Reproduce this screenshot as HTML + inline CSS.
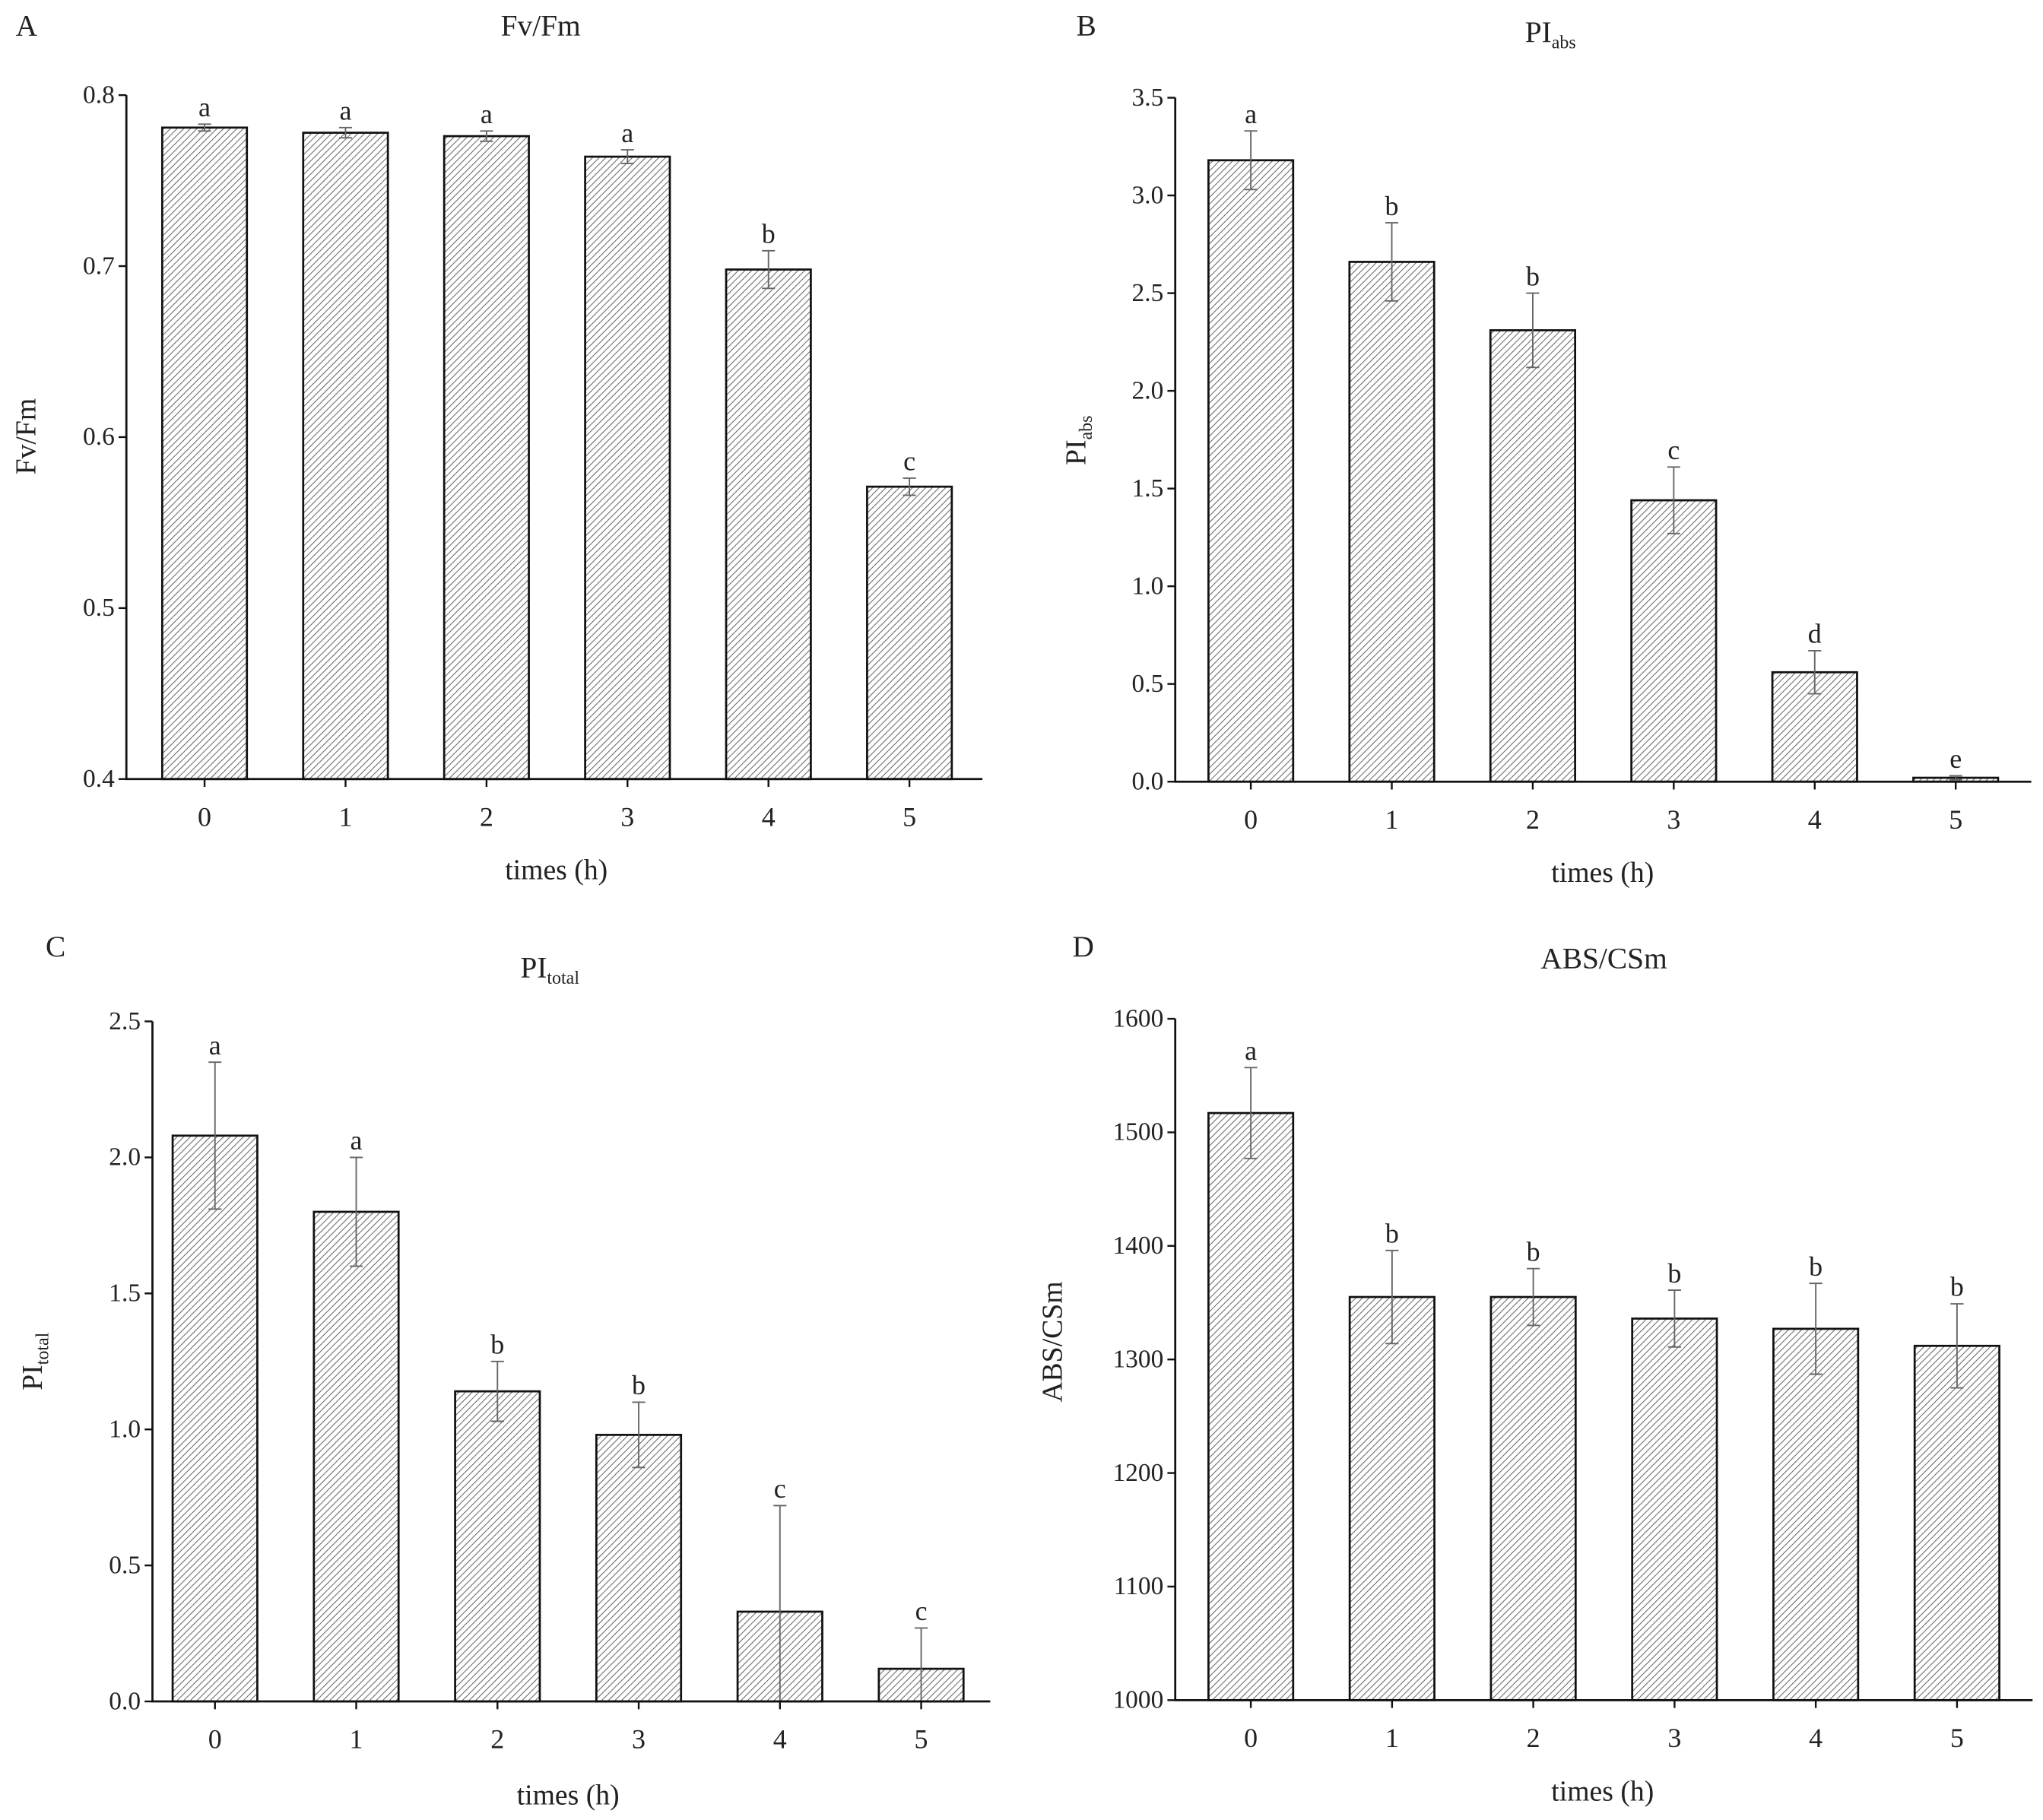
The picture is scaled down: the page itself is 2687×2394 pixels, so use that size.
<!DOCTYPE html>
<html><head><meta charset="utf-8"><style>
html,body{margin:0;padding:0;background:#fff}
svg{display:block}
text{font-family:"Liberation Serif",serif;fill:#222}
</style></head><body>
<svg id="fig" width="2687" height="2394" viewBox="0 0 1568 1397" xmlns="http://www.w3.org/2000/svg">
<defs>
<pattern id="hatch" patternUnits="userSpaceOnUse" width="3.6" height="3.6" patternTransform="rotate(45)">
<rect width="3.6" height="3.6" fill="#fff"/>
<line x1="0" y1="0" x2="0" y2="3.6" stroke="#666" stroke-width="1.2"/>
</pattern>
</defs>
</svg>
<script>
const categories = ["0","1","2","3","4","5"];
const fvfmValues = [0.781,0.778,0.776,0.764,0.698,0.571];
const fvfmErrors = [0.002,0.003,0.003,0.004,0.011,0.005];
const fvfmLetters = ["a","a","a","a","b","c"];
const fvfmTicks = [0.4,0.5,0.6,0.7,0.8];
const piabsValues = [3.18,2.66,2.31,1.44,0.56,0.02];
const piabsErrors = [0.15,0.20,0.19,0.17,0.11,0.01];
const piabsLetters = ["a","b","b","c","d","e"];
const piabsTicks = [0,0.5,1,1.5,2,2.5,3,3.5];
const pitotValues = [2.08,1.80,1.14,0.98,0.33,0.12];
const pitotErrors = [0.27,0.20,0.11,0.12,0.39,0.15];
const pitotLetters = ["a","a","b","b","c","c"];
const pitotTicks = [0,0.5,1,1.5,2,2.5];
const abscsValues = [1517,1355,1355,1336,1327,1312];
const abscsErrors = [40,41,25,25,40,37];
const abscsLetters = ["a","b","b","b","b","b"];
const abscsTicks = [1000,1100,1200,1300,1400,1500,1600];

const NS="http://www.w3.org/2000/svg";
const svg=document.getElementById('fig');
function mk(tag,attrs,parent){const e=document.createElementNS(NS,tag);for(const k in attrs)e.setAttribute(k,attrs[k]);(parent||svg).appendChild(e);return e;}

function panel(cfg){
  const g=mk('g',{});
  
  
  const y=v=>cfg.y0+(v-cfg.min)/(cfg.max-cfg.min)*(cfg.y1-cfg.y0);
  const x=i=>cfg.c0+i*cfg.step;
  cfg.values.forEach((v,i)=>{
    const top=y(v);
    const r=mk('rect',{x:x(i)-32.5,y:top,width:65,height:y(cfg.min)-top,fill:'url(#hatch)',stroke:'#111','stroke-width':1.6},g);
    
    
    const e=cfg.errors[i];
    const hi=y(v+e), lo=y(Math.max(cfg.min,v-e));
    const eb=mk('path',{d:`M${x(i)} ${hi}V${lo}M${x(i)-5} ${hi}H${x(i)+5}M${x(i)-5} ${lo}H${x(i)+5}`,stroke:'#666','stroke-width':1.1,fill:'none'},g);
    
    
    const t=mk('text',{x:x(i),y:hi-6,'text-anchor':'middle','font-size':21},g);
    t.textContent=cfg.letters[i];
    
    
  });
  const ax=mk('path',{d:`M${cfg.ax} ${y(cfg.max)}V${y(cfg.min)}H${cfg.xend}`,stroke:'#111','stroke-width':1.6,fill:'none'},g);
  
  
  cfg.ticks.forEach(tv=>{
    mk('line',{x1:cfg.ax-6,x2:cfg.ax,y1:y(tv),y2:y(tv),stroke:'#111','stroke-width':1.4},g);
    const t=mk('text',{x:cfg.ax-9,y:y(tv)+6,'text-anchor':'end','font-size':19.5},g);
    t.textContent=cfg.fmt(tv);
    
    
  });
  categories.forEach((c,i)=>{
    mk('line',{x1:x(i),x2:x(i),y1:y(cfg.min),y2:y(cfg.min)+6,stroke:'#111','stroke-width':1.4},g);
    const t=mk('text',{x:x(i),y:y(cfg.min)+36,'text-anchor':'middle','font-size':21},g);
    t.textContent=c;
    
    
  });
  const xl=mk('text',{x:cfg.xlx,y:cfg.xly,'text-anchor':'middle','font-size':22},g);
  xl.textContent='times (h)';
  
  
  const yl=mk('text',{x:0,y:0,'text-anchor':'middle','font-size':22,transform:`translate(${cfg.ylx},${cfg.yly}) rotate(-90)`},g);
  yl.innerHTML=cfg.ylab;
  
  
  const ti=mk('text',{x:cfg.tx,y:cfg.ty,'text-anchor':'middle','font-size':23},g);
  ti.innerHTML=cfg.title;
  
  
  const lb=mk('text',{x:cfg.lx,y:cfg.ly,'font-size':23},g);
  lb.textContent=cfg.label;
  
  
}
const f1=v=>v.toFixed(1);
panel({id:'fvfm',values:fvfmValues,errors:fvfmErrors,letters:fvfmLetters,ticks:fvfmTicks,min:0.4,max:0.8,y0:598,y1:73,c0:157,step:108.2,ax:97,xend:754,fmt:f1,
  xlx:427,xly:675,ylx:27,yly:335,ylab:'Fv/Fm',tx:415,ty:27,title:'Fv/Fm',lx:12,ly:27,label:'A'});
panel({id:'piabs',values:piabsValues,errors:piabsErrors,letters:piabsLetters,ticks:piabsTicks,min:0,max:3.5,y0:600,y1:75,c0:960,step:108.2,ax:902,xend:1559,fmt:f1,
  xlx:1230,xly:677,ylx:833,yly:338,ylab:'PI<tspan font-size="14" dy="5">abs</tspan>',tx:1190,ty:32,title:'PI<tspan font-size="14" dy="5">abs</tspan>',lx:826,ly:27,label:'B'});
panel({id:'pitotal',values:pitotValues,errors:pitotErrors,letters:pitotLetters,ticks:pitotTicks,min:0,max:2.5,y0:1306,y1:784,c0:165,step:108.4,ax:117,xend:760,fmt:f1,
  xlx:436,xly:1385,ylx:32,yly:1045,ylab:'PI<tspan font-size="14" dy="5">total</tspan>',tx:422,ty:750,title:'PI<tspan font-size="14" dy="5">total</tspan>',lx:35,ly:734,label:'C'});
panel({id:'abscsm',values:abscsValues,errors:abscsErrors,letters:abscsLetters,ticks:abscsTicks,min:1000,max:1600,y0:1305,y1:782,c0:960,step:108.4,ax:902,xend:1560,fmt:v=>String(v),
  xlx:1230,xly:1382,ylx:815,yly:1030,ylab:'ABS/CSm',tx:1231,ty:743,title:'ABS/CSm',lx:823,ly:734,label:'D'});
</script>
</body></html>
